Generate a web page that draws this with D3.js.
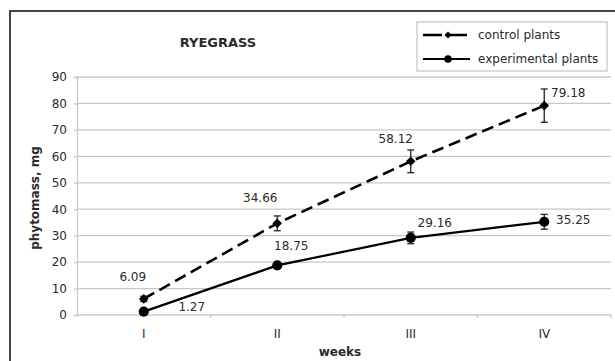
<!DOCTYPE html>
<html>
<head>
	<meta charset="utf-8">
	<title>Ryegrass</title>
	<script src="https://cdn.jsdelivr.net/npm/d3@7"></script>
	<style>
		body { margin: 0; background: #fff; overflow: hidden; }
		svg { display: block; font-family: "DejaVu Sans", sans-serif; }
	</style>
</head>
<body>
<div id="chart"></div>
<script>

	// data
	const weeks        = ["I", "II", "III", "IV"];
	const controlMean  = [6.09, 34.66, 58.12, 79.18];
	const controlErr   = [1.0, 2.8, 4.3, 6.3];
	const expMean      = [1.27, 18.75, 29.16, 35.25];
	const expErr       = [0.5, 1.0, 2.2, 2.8];
	const yTicks       = [0, 10, 20, 30, 40, 50, 60, 70, 80, 90];

	// label offsets from their point (hand placed in the original)
	const controlLabelOffset = [[-11, -22], [-17, -26], [-15, -23], [24, -13]];
	const expLabelOffset     = [[48, -5], [14, -20], [24, -15], [29, -2]];

	const width  = 615;
	const height = 361;
	const margin = { top: 77, right: 4, bottom: 46, left: 77 };
	const gridColor = "#c8c8c8";
	const textColor = "#2a2a2a";

	const svg = d3.select("#chart").append("svg")
		.attr("width", width)
		.attr("height", height);

	// outer frame (cut off at right and bottom like the picture)
	svg.append("path")
		.attr("d", `M${width + 10},11H10V${height + 10}`)
		.attr("fill", "none")
		.attr("stroke", "#444")
		.attr("stroke-width", 2);

	const x = d3.scaleBand()
		.domain(weeks)
		.range([margin.left, width - margin.right]);

	const y = d3.scaleLinear()
		.domain([0, 90])
		.range([height - margin.bottom, margin.top]);

	const cx = d => x(d) + x.bandwidth() / 2;

	// grid
	svg.append("g")
		.selectAll("line")
		.data(yTicks.slice(1))
		.join("line")
		.attr("x1", margin.left).attr("x2", width - margin.right)
		.attr("y1", d => y(d)).attr("y2", d => y(d))
		.attr("stroke", gridColor)
		.attr("stroke-width", 1.3);

	// y axis
	svg.append("g")
		.attr("transform", `translate(${margin.left},0)`)
		.call(d3.axisLeft(y).tickValues(yTicks).tickSize(3).tickPadding(7))
		.call(g => g.selectAll("line, path").attr("stroke", gridColor).attr("stroke-width", 1.3))
		.call(g => g.selectAll("text").attr("font-size", 12).attr("fill", textColor).attr("font-family", "DejaVu Sans"));

	// x axis: ticks on band boundaries
	const xAxis = svg.append("g")
		.attr("transform", `translate(0,${y(0)})`);
	xAxis.append("line")
		.attr("x1", margin.left).attr("x2", width - margin.right)
		.attr("stroke", gridColor).attr("stroke-width", 1.3);
	xAxis.selectAll(".tk")
		.data(weeks)
		.join("line")
		.attr("class", "tk")
		.attr("x1", d => x(d) + x.bandwidth()).attr("x2", d => x(d) + x.bandwidth())
		.attr("y1", 0).attr("y2", 3)
		.attr("stroke", gridColor).attr("stroke-width", 1.3);
	xAxis.selectAll("text")
		.data(weeks)
		.join("text")
		.attr("x", cx)
		.attr("y", 19)
		.attr("dy", "0.35em")
		.attr("text-anchor", "middle")
		.attr("font-size", 12)
		.attr("fill", textColor)
		.text(d => d);

	// axis titles
	svg.append("text")
		.attr("x", (margin.left + width - margin.right) / 2 - 4)
		.attr("y", 352)
		.attr("dy", "0.35em")
		.attr("text-anchor", "middle")
		.attr("font-size", 12)
		.attr("font-weight", "bold")
		.attr("fill", textColor)
		.text("weeks");

	svg.append("text")
		.attr("transform", `translate(35,${(y(0) + y(90)) / 2 + 2}) rotate(-90)`)
		.attr("dy", "0.35em")
		.attr("text-anchor", "middle")
		.attr("font-size", 12)
		.attr("font-weight", "bold")
		.attr("fill", textColor)
		.text("phytomass, mg");

	svg.append("text")
		.attr("x", 218)
		.attr("y", 42)
		.attr("dy", "0.35em")
		.attr("text-anchor", "middle")
		.attr("font-size", 13)
		.attr("font-weight", "bold")
		.attr("fill", textColor)
		.text("RYEGRASS");

	// diamond = square turned 45 degrees
	const series = [
		{ name: "control plants", mean: controlMean, err: controlErr, dash: "12,6", width: 2.6, symbol: d3.symbolSquare, rot: 45, size: 46, offs: controlLabelOffset },
		{ name: "experimental plants", mean: expMean, err: expErr, dash: null, width: 2.2, symbol: d3.symbolCircle, rot: 0, size: 80, offs: expLabelOffset }
	];

	series.forEach(s => {
		const g = svg.append("g");
		const I = d3.range(weeks.length);

		g.append("path")
			.attr("fill", "none")
			.attr("stroke", "#000")
			.attr("stroke-width", s.width)
			.attr("stroke-dasharray", s.dash)
			.attr("d", d3.line().x(i => cx(weeks[i])).y(i => y(s.mean[i]))(I));

		// error bars
		const eb = g.selectAll(".eb").data(I).join("g").attr("class", "eb")
			.attr("stroke", "#222").attr("stroke-width", 1.3);
		eb.append("line")
			.attr("x1", i => cx(weeks[i])).attr("x2", i => cx(weeks[i]))
			.attr("y1", i => y(s.mean[i] + s.err[i])).attr("y2", i => y(s.mean[i] - s.err[i]));
		eb.append("line")
			.attr("x1", i => cx(weeks[i]) - 3.5).attr("x2", i => cx(weeks[i]) + 3.5)
			.attr("y1", i => y(s.mean[i] + s.err[i])).attr("y2", i => y(s.mean[i] + s.err[i]));
		eb.append("line")
			.attr("x1", i => cx(weeks[i]) - 3.5).attr("x2", i => cx(weeks[i]) + 3.5)
			.attr("y1", i => y(s.mean[i] - s.err[i])).attr("y2", i => y(s.mean[i] - s.err[i]));

		g.selectAll(".mk").data(I).join("path").attr("class", "mk")
			.attr("transform", i => `translate(${cx(weeks[i])},${y(s.mean[i])}) rotate(${s.rot})`)
			.attr("d", d3.symbol(s.symbol, s.size))
			.attr("fill", "#000");

		g.selectAll(".lb").data(I).join("text").attr("class", "lb")
			.attr("x", i => cx(weeks[i]) + s.offs[i][0])
			.attr("y", i => y(s.mean[i]) + s.offs[i][1])
			.attr("dy", "0.35em")
			.attr("text-anchor", "middle")
			.attr("font-size", 12)
			.attr("fill", textColor)
			.text(i => s.mean[i].toFixed(2));
	});

	// legend
	const legend = svg.append("g");
	legend.append("rect")
		.attr("x", 417).attr("y", 22)
		.attr("width", 190).attr("height", 49)
		.attr("fill", "#fff")
		.attr("stroke", "#c8c8c8")
		.attr("stroke-width", 1.3);

	series.forEach((s, k) => {
		const ly = 35 + k * 24;
		legend.append("line")
			.attr("x1", 423).attr("x2", 470)
			.attr("y1", ly).attr("y2", ly)
			.attr("stroke", "#000")
			.attr("stroke-width", s.width)
			.attr("stroke-dasharray", s.dash ? "19,6" : null);
		legend.append("path")
			.attr("transform", `translate(448,${ly}) rotate(${s.rot})`)
			.attr("d", d3.symbol(s.symbol, s.size * 0.55))
			.attr("fill", "#000");
		legend.append("text")
			.attr("x", 478).attr("y", ly)
			.attr("dy", "0.35em")
			.attr("font-size", 12)
			.attr("fill", textColor)
			.text(s.name);
	});

</script>
</body>
</html>
